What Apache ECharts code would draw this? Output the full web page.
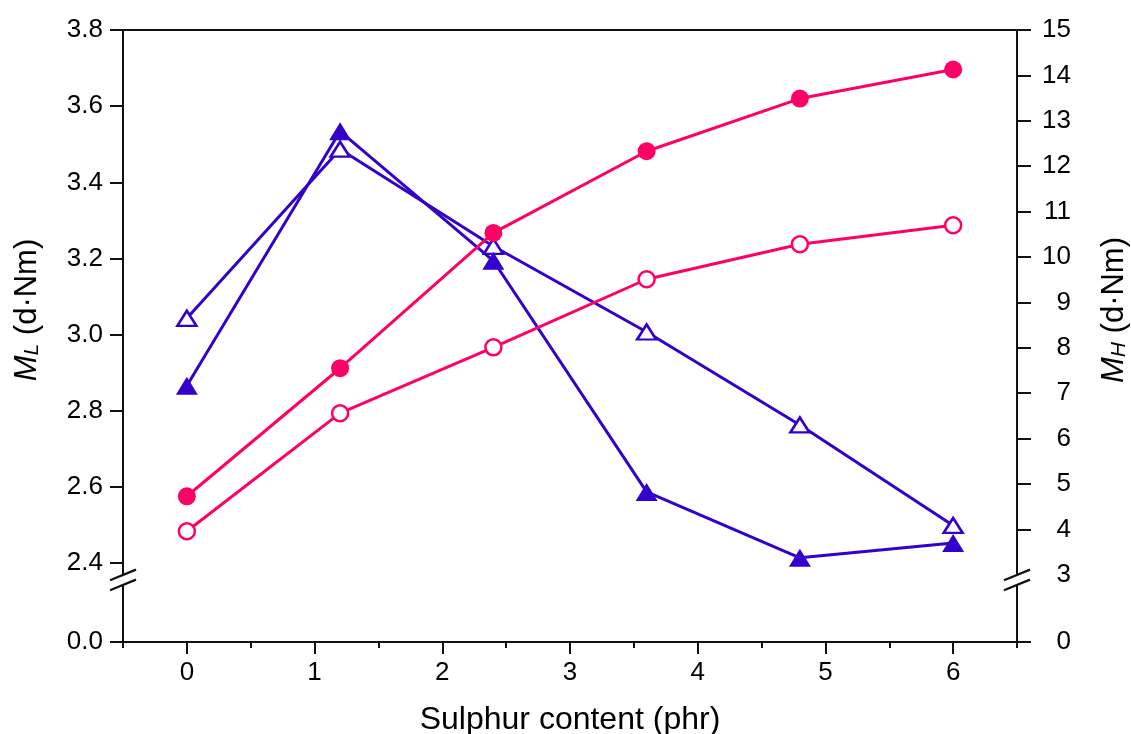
<!DOCTYPE html>
<html><head><meta charset="utf-8">
<script src="https://cdn.jsdelivr.net/npm/echarts@6/dist/echarts.min.js"></script>
<style>html,body{margin:0;padding:0;background:#fff}#c{width:1131px;height:734px}</style>
</head><body><div id="c"></div>
<script>
// ---- data ----
const sulphur = [0, 1.2, 2.4, 3.6, 4.8, 6];
const mlFilled = [2.866, 3.534, 3.194, 2.587, 2.414, 2.453];
const mlOpen = [3.043, 3.487, 3.232, 3.007, 2.763, 2.499];
const mhFilled = [4.73, 7.55, 10.53, 12.33, 13.49, 14.13];
const mhOpen = [3.96, 6.56, 8.01, 9.51, 10.28, 10.70];
const xTicks = [0, 1, 2, 3, 4, 5, 6];
const xMinorTicks = [-0.5, 0.5, 1.5, 2.5, 3.5, 4.5, 5.5, 6.5];
const mlTicks = [2.4, 2.6, 2.8, 3.0, 3.2, 3.4, 3.6, 3.8];
const mhTicks = [4, 5, 6, 7, 8, 9, 10, 11, 12, 13, 14, 15];
const mlZero = 2.193;   // bottom of broken left axis, labelled 0.0
const mhZero = 1.52;    // bottom of broken right axis, labelled 0
const mhBreakLabel = 3;
const mlBreak = 2.356;  // where the axis break marks sit

// ---- styles ----
const PINK = '#FF0066', BLUE = '#3300CC', INK = '#111';
const FONT = 'Liberation Sans';
const pair = (xs, ys) => xs.map((x, i) => [x, ys[i]]);

const chart = echarts.init(document.getElementById('c'), null, {renderer: 'canvas'});
const axisLine = {show: true, onZero: false, lineStyle: {color: INK, width: 2}};
const labelStyle = {color: '#000', fontFamily: FONT, fontSize: 26};
const nameRich = {
  m: {fontFamily: FONT, fontSize: 31, fontStyle: 'italic', color: '#000'},
  s: {fontFamily: FONT, fontSize: 21, fontStyle: 'italic', color: '#000', verticalAlign: 'bottom', lineHeight: 22},
  n: {fontFamily: FONT, fontSize: 31, color: '#000'}
};

chart.setOption({
  animation: false,
  backgroundColor: '#fff',
  grid: {left: 123, right: 114, top: 30, bottom: 92, containLabel: false, outerBoundsMode: 'none'},
  xAxis: [
    {type: 'value', position: 'bottom', min: -0.5, max: 6.5,
     axisLine: axisLine, splitLine: {show: false},
     axisTick: {show: true, customValues: xTicks, length: 12, lineStyle: {color: INK, width: 2}},
     axisLabel: Object.assign({customValues: xTicks, margin: 18}, labelStyle),
     name: 'Sulphur content (phr)', nameLocation: 'middle', nameGap: 62,
     nameTextStyle: {fontFamily: FONT, fontSize: 32, color: '#000'}},
    {type: 'value', position: 'bottom', min: -0.5, max: 6.5,
     axisLine: {show: false, onZero: false}, splitLine: {show: false},
     axisTick: {show: true, customValues: xMinorTicks, length: 6, lineStyle: {color: INK, width: 2}},
     axisLabel: {show: false}},
    {type: 'value', position: 'top', min: -0.5, max: 6.5,
     axisLine: axisLine, splitLine: {show: false},
     axisTick: {show: false}, axisLabel: {show: false}}
  ],
  yAxis: [
    {type: 'value', position: 'left', min: mlZero, max: 3.8,
     axisLine: axisLine, splitLine: {show: false},
     axisTick: {show: true, customValues: [mlZero].concat(mlTicks), length: 13, lineStyle: {color: INK, width: 2}},
     axisLabel: Object.assign({customValues: [mlZero].concat(mlTicks), margin: 20,
       formatter: v => v < 2.3 ? '0.0' : v.toFixed(1)}, labelStyle),
     name: '{m|M}{s|L}{n| (d·Nm)}', nameLocation: 'middle', nameRotate: 90, nameGap: 80,
     nameTextStyle: {rich: nameRich, padding: [0, 0, 0, 52]}},
    {type: 'value', position: 'right', min: mhZero, max: 15,
     axisLine: axisLine, splitLine: {show: false},
     axisTick: {show: true, customValues: [mhZero].concat(mhTicks), length: 14, lineStyle: {color: INK, width: 2}},
     axisLabel: Object.assign({customValues: [mhZero, mhBreakLabel].concat(mhTicks), margin: 54, align: 'right',
       formatter: v => v < 2 ? '0' : String(Math.round(v))}, labelStyle),
     name: '{m|M}{s|H}{n| (d·Nm)}', nameLocation: 'middle', nameRotate: 90, nameGap: 82,
     nameTextStyle: {rich: nameRich, padding: [0, 0, 0, 52]}}
  ],
  series: [
    {type: 'line', name: 'ML open', xAxisIndex: 0, yAxisIndex: 0, data: pair(sulphur, mlOpen),
     symbol: 'triangle', symbolSize: [19, 15], showAllSymbol: true,
     lineStyle: {color: BLUE, width: 3},
     itemStyle: {color: '#fff', borderColor: BLUE, borderWidth: 2.5}},
    {type: 'line', name: 'ML filled', xAxisIndex: 0, yAxisIndex: 0, data: pair(sulphur, mlFilled),
     symbol: 'triangle', symbolSize: [22, 18],
     lineStyle: {color: BLUE, width: 3},
     itemStyle: {color: BLUE, borderWidth: 0}},
    {type: 'line', name: 'MH open', xAxisIndex: 0, yAxisIndex: 1, data: pair(sulphur, mhOpen),
     symbol: 'circle', symbolSize: 16,
     lineStyle: {color: PINK, width: 3},
     itemStyle: {color: '#fff', borderColor: PINK, borderWidth: 2.5}},
    {type: 'line', name: 'MH filled', xAxisIndex: 0, yAxisIndex: 1, data: pair(sulphur, mhFilled),
     symbol: 'circle', symbolSize: 18,
     lineStyle: {color: PINK, width: 3},
     itemStyle: {color: PINK, borderWidth: 0}}
  ]
});

// axis break marks (decoration placed through the axes' own scales)
function breakMark(ax, by) {
  const dx = 13, dy = 5.3, sep = 5, k = dy / dx, w = 5;
  return [
    {type: 'polygon', z: 100, silent: true,
     shape: {points: [[ax - w, by - sep + w * k], [ax + w, by - sep - w * k], [ax + w, by + sep - w * k], [ax - w, by + sep + w * k]]},
     style: {fill: '#fff', stroke: null}},
    {type: 'line', z: 101, silent: true, shape: {x1: ax - dx, y1: by - sep + dy, x2: ax + dx, y2: by - sep - dy},
     style: {stroke: INK, lineWidth: 2.2}},
    {type: 'line', z: 101, silent: true, shape: {x1: ax - dx, y1: by + sep + dy, x2: ax + dx, y2: by + sep - dy},
     style: {stroke: INK, lineWidth: 2.2}}
  ];
}
const by = chart.convertToPixel({yAxisIndex: 0}, mlBreak);
const xl = chart.convertToPixel({xAxisIndex: 0}, -0.5);
const xr = chart.convertToPixel({xAxisIndex: 0}, 6.5);
chart.setOption({graphic: breakMark(xl, by).concat(breakMark(xr, by))});
</script>
</body></html>
